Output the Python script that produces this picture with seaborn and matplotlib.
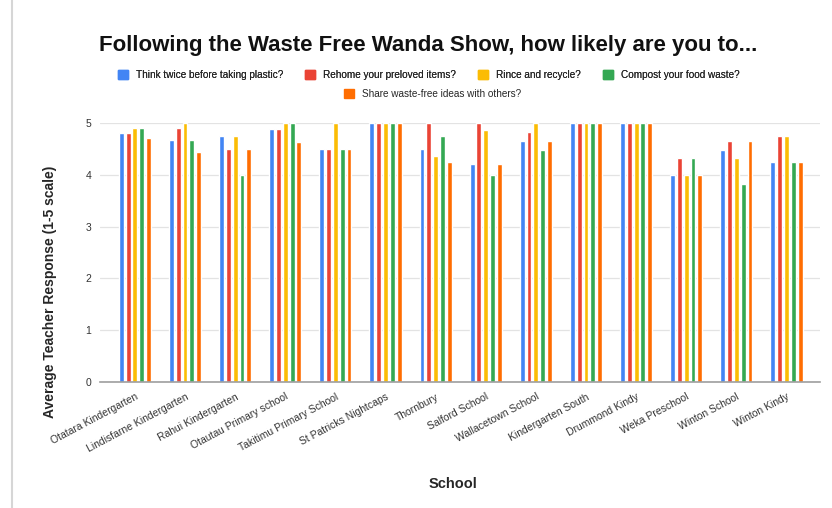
import pandas as pd
import matplotlib.pyplot as plt
import seaborn as sns

# data
schools = ["Otatara Kindergarten", "Lindisfarne Kindergarten", "Rahui Kindergarten",
           "Otautau Primary school", "Takitimu Primary School", "St Patricks Nightcaps",
           "Thornbury", "Salford School", "Wallacetown School", "Kindergarten South",
           "Drummond Kindy", "Weka Preschool", "Winton School", "Winton Kindy"]

questions = ["Think twice before taking plastic?", "Rehome your preloved items?",
             "Rince and recycle?", "Compost your food waste?",
             "Share waste-free ideas with others?"]

think_twice = [4.8, 4.67, 4.75, 4.89, 4.5, 5.0, 4.5, 4.21, 4.65, 5.0, 5.0, 4.0, 4.48, 4.25]
rehome      = [4.8, 4.9, 4.5, 4.89, 4.5, 5.0, 5.0, 5.0, 4.82, 5.0, 5.0, 4.33, 4.65, 4.74]
rinse       = [4.9, 5.0, 4.75, 5.0, 5.0, 5.0, 4.36, 4.86, 5.0, 5.0, 5.0, 4.0, 4.33, 4.74]
compost     = [4.9, 4.67, 4.0, 5.0, 4.5, 5.0, 4.74, 4.0, 4.48, 5.0, 5.0, 4.33, 3.83, 4.25]
share       = [4.7, 4.43, 4.5, 4.63, 4.5, 5.0, 4.25, 4.21, 4.65, 5.0, 5.0, 4.0, 4.65, 4.25]

colors = ["#4285F4", "#EA4335", "#FBBC04", "#34A853", "#FF6D01"]

rows = []
for q, vals in zip(questions, [think_twice, rehome, rinse, compost, share]):
    for s, v in zip(schools, vals):
        rows.append({"School": s, "Question": q, "Score": v})
df = pd.DataFrame(rows)

sns.set_style("white")
plt.rcParams["font.family"] = ["Liberation Sans", "DejaVu Sans"]

fig = plt.figure(figsize=(8.32, 5.08), dpi=100)
ax = fig.add_axes([0.12, 0.248, 0.865, 0.51])

sns.barplot(data=df, x="School", y="Score", hue="Question", hue_order=questions,
            order=schools, palette=colors, width=0.68, gap=0.28, ax=ax,
            legend=False, errorbar=None, saturation=1)

ax.set_ylim(0, 5)
ax.set_xlim(-0.7, len(schools) - 0.34)
ax.set_yticks(range(6))
ax.yaxis.grid(True, color="#e3e3e3", linewidth=0.9)
ax.set_axisbelow(True)
for side in ["left", "right", "top"]:
    ax.spines[side].set_visible(False)
ax.spines["bottom"].set_color("#9e9e9e")
ax.spines["bottom"].set_linewidth(1.2)
ax.tick_params(axis="both", length=0, labelsize=7.5, colors="#333333")
ax.tick_params(axis="y", pad=6)
ax.tick_params(axis="x", pad=7)
ax.set_xticks(range(len(schools)))
ax.set_xticklabels(schools, rotation=28, ha="right", rotation_mode="anchor")

ax.set_xlabel("School", fontsize=10.5, fontweight="bold")
ax.xaxis.set_label_coords(0.49, -0.365)
ax.set_ylabel("Average Teacher Response (1-5 scale)", fontsize=10, fontweight="bold")
ax.yaxis.set_label_coords(-0.06, 0.35)

fig.text(0.515, 0.91, "Following the Waste Free Wanda Show, how likely are you to...",
         ha="center", va="center", fontsize=16, fontweight="bold", color="#111111")

handles = [plt.Rectangle((0, 0), 1, 1, color=c) for c in colors]
leg1 = fig.legend(handles[:4], questions[:4], loc="center", bbox_to_anchor=(0.515, 0.852),
                  ncol=4, frameon=False, fontsize=7.2, handlelength=1.0, handleheight=1.0,
                  columnspacing=2.2, handletextpad=0.8)
fig.legend(handles[4:], questions[4:], loc="center", bbox_to_anchor=(0.52, 0.815),
           ncol=1, frameon=False, fontsize=7.2, handlelength=1.0, handleheight=1.0,
           handletextpad=0.8)
fig.add_artist(leg1)

# screenshot frame line on the left
fig.add_artist(plt.Line2D([0.015, 0.015], [0.0, 1.0], color="#d6d6d6", linewidth=1.5))

fig.savefig("out.png", dpi=100)
